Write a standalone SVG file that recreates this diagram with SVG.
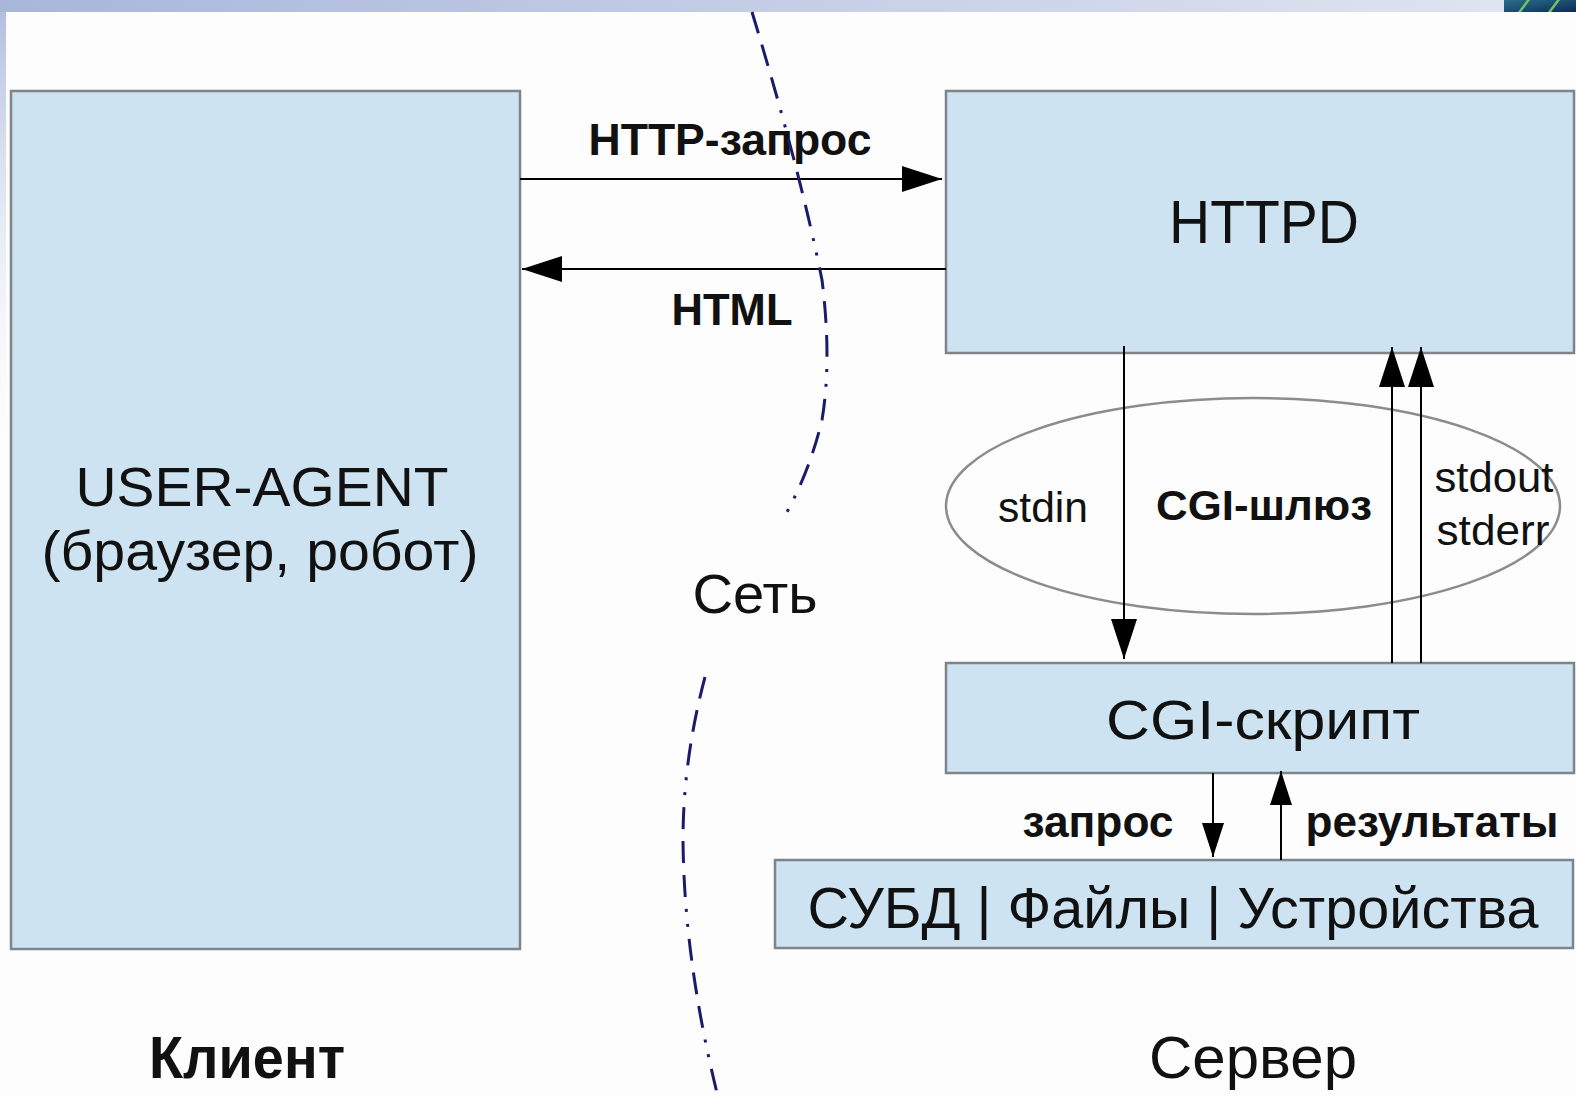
<svg xmlns="http://www.w3.org/2000/svg" width="1576" height="1097" viewBox="0 0 1576 1097">
  <defs>
    <linearGradient id="band" x1="0" y1="0" x2="1" y2="0">
      <stop offset="0" stop-color="#a8b6db"/>
      <stop offset="1" stop-color="#e3e6f1"/>
    </linearGradient>
    <linearGradient id="side" x1="0" y1="0" x2="0" y2="1">
      <stop offset="0" stop-color="#b2c0e0"/>
      <stop offset="1" stop-color="#ffffff" stop-opacity="0"/>
    </linearGradient>
    <linearGradient id="logo" x1="0" y1="0" x2="1" y2="1">
      <stop offset="0" stop-color="#2a6f8c"/>
      <stop offset="1" stop-color="#0f2a55"/>
    </linearGradient>
    <clipPath id="logoClip"><rect x="1504" y="0" width="72" height="12"/></clipPath>
    <marker id="head" markerWidth="40" markerHeight="26" refX="40" refY="13" orient="auto" markerUnits="userSpaceOnUse">
      <path d="M0,0 L40,13 L0,26 Z" fill="#000"/>
    </marker>
    <marker id="headSm" markerWidth="34" markerHeight="22" refX="34" refY="11" orient="auto" markerUnits="userSpaceOnUse">
      <path d="M0,0 L34,11 L0,22 Z" fill="#000"/>
    </marker>
    <style>
      .box { fill: #cde3f1; stroke: #7e8489; stroke-width: 2.5; }
      .txt { font-family: "Liberation Sans", Arial, sans-serif; fill: #111; }
      .b { font-weight: bold; }
      .wire { stroke: #000; stroke-width: 2; fill: none; }
      .net { stroke: #1b1b6b; stroke-width: 3; fill: none; stroke-dasharray: 22 12 22 12 22 12 3 12 3 12; }
    </style>
  </defs>

  <!-- page background and slide frame -->
  <rect x="0" y="0" width="1576" height="1097" fill="#fdfdfd"/>
  <rect x="0" y="0" width="1576" height="12" fill="url(#band)"/>
  <rect x="0" y="12" width="6" height="480" fill="url(#side)"/>
  <g clip-path="url(#logoClip)">
    <rect x="1504" y="0" width="72" height="12" fill="url(#logo)"/>
    <path d="M1518,14 L1530,-2 M1548,14 L1560,-2" stroke="#6fc46a" stroke-width="2.5"/>
  </g>

  <!-- client -->
  <g id="user-agent">
    <rect class="box" x="11" y="91" width="509" height="858"/>
    <text class="txt" x="262" y="506" font-size="56" text-anchor="middle" textLength="373" lengthAdjust="spacingAndGlyphs">USER-AGENT</text>
    <text class="txt" x="260" y="570" font-size="56" text-anchor="middle" textLength="437" lengthAdjust="spacingAndGlyphs">(браузер, робот)</text>
  </g>
  <g id="client-label">
    <text class="txt b" x="247" y="1078" font-size="60" text-anchor="middle" textLength="196" lengthAdjust="spacingAndGlyphs">Клиент</text>
  </g>

  <!-- server -->
  <g id="httpd">
    <rect class="box" x="946" y="91" width="628" height="262"/>
    <text class="txt" x="1264" y="243" font-size="62" text-anchor="middle" textLength="190" lengthAdjust="spacingAndGlyphs">HTTPD</text>
  </g>
  <g id="cgi-gateway">
    <ellipse cx="1253" cy="506" rx="307" ry="108" fill="none" stroke="#8c8c8c" stroke-width="2.5"/>
    <text class="txt" x="1043" y="522" font-size="42" text-anchor="middle" textLength="90" lengthAdjust="spacingAndGlyphs">stdin</text>
    <text class="txt b" x="1264" y="520" font-size="42" text-anchor="middle" textLength="216" lengthAdjust="spacingAndGlyphs">CGI-шлюз</text>
    <text class="txt" x="1494" y="492" font-size="42" text-anchor="middle" textLength="119" lengthAdjust="spacingAndGlyphs">stdout</text>
    <text class="txt" x="1493" y="545" font-size="42" text-anchor="middle" textLength="113" lengthAdjust="spacingAndGlyphs">stderr</text>
  </g>
  <g id="cgi-script">
    <rect class="box" x="946" y="663" width="628" height="110"/>
    <text class="txt" x="1263" y="739" font-size="56" text-anchor="middle" textLength="314" lengthAdjust="spacingAndGlyphs">CGI-скрипт</text>
  </g>
  <g id="storage">
    <rect class="box" x="775" y="860" width="798" height="88"/>
    <text class="txt" x="1173" y="928" font-size="58" text-anchor="middle" textLength="731" lengthAdjust="spacingAndGlyphs">СУБД | Файлы | Устройства</text>
  </g>
  <g id="server-label">
    <text class="txt" x="1253" y="1078" font-size="60" text-anchor="middle" textLength="208" lengthAdjust="spacingAndGlyphs">Сервер</text>
  </g>

  <!-- connectors -->
  <g id="connectors">
    <line class="wire" x1="520" y1="179" x2="942" y2="179" marker-end="url(#head)"/>
    <text class="txt b" x="730" y="155" font-size="45" text-anchor="middle" textLength="283" lengthAdjust="spacingAndGlyphs">HTTP-запрос</text>
    <line class="wire" x1="946" y1="269" x2="522" y2="269" marker-end="url(#head)"/>
    <text class="txt b" x="732" y="325" font-size="44" text-anchor="middle" textLength="121" lengthAdjust="spacingAndGlyphs">HTML</text>
    <line class="wire" x1="1124" y1="346" x2="1124" y2="659" marker-end="url(#head)"/>
    <line class="wire" x1="1392" y1="663" x2="1392" y2="347" marker-end="url(#head)"/>
    <line class="wire" x1="1421" y1="663" x2="1421" y2="347" marker-end="url(#head)"/>
    <line class="wire" x1="1213" y1="773" x2="1213" y2="857" marker-end="url(#headSm)"/>
    <text class="txt b" x="1098" y="837" font-size="44" text-anchor="middle" textLength="151" lengthAdjust="spacingAndGlyphs">запрос</text>
    <line class="wire" x1="1281" y1="860" x2="1281" y2="771" marker-end="url(#headSm)"/>
    <text class="txt b" x="1432" y="837" font-size="44" text-anchor="middle" textLength="253" lengthAdjust="spacingAndGlyphs">результаты</text>
  </g>

  <!-- network boundary -->
  <g id="network">
    <path class="net" d="M752,12 Q800,170 822,280 Q832,360 822,420 Q810,470 786,514"/>
    <path class="net" d="M705,677 Q683,760 683,840 Q684,960 718,1097"/>
    <text class="txt" x="755" y="613" font-size="56" text-anchor="middle" textLength="125" lengthAdjust="spacingAndGlyphs">Сеть</text>
  </g>
</svg>
